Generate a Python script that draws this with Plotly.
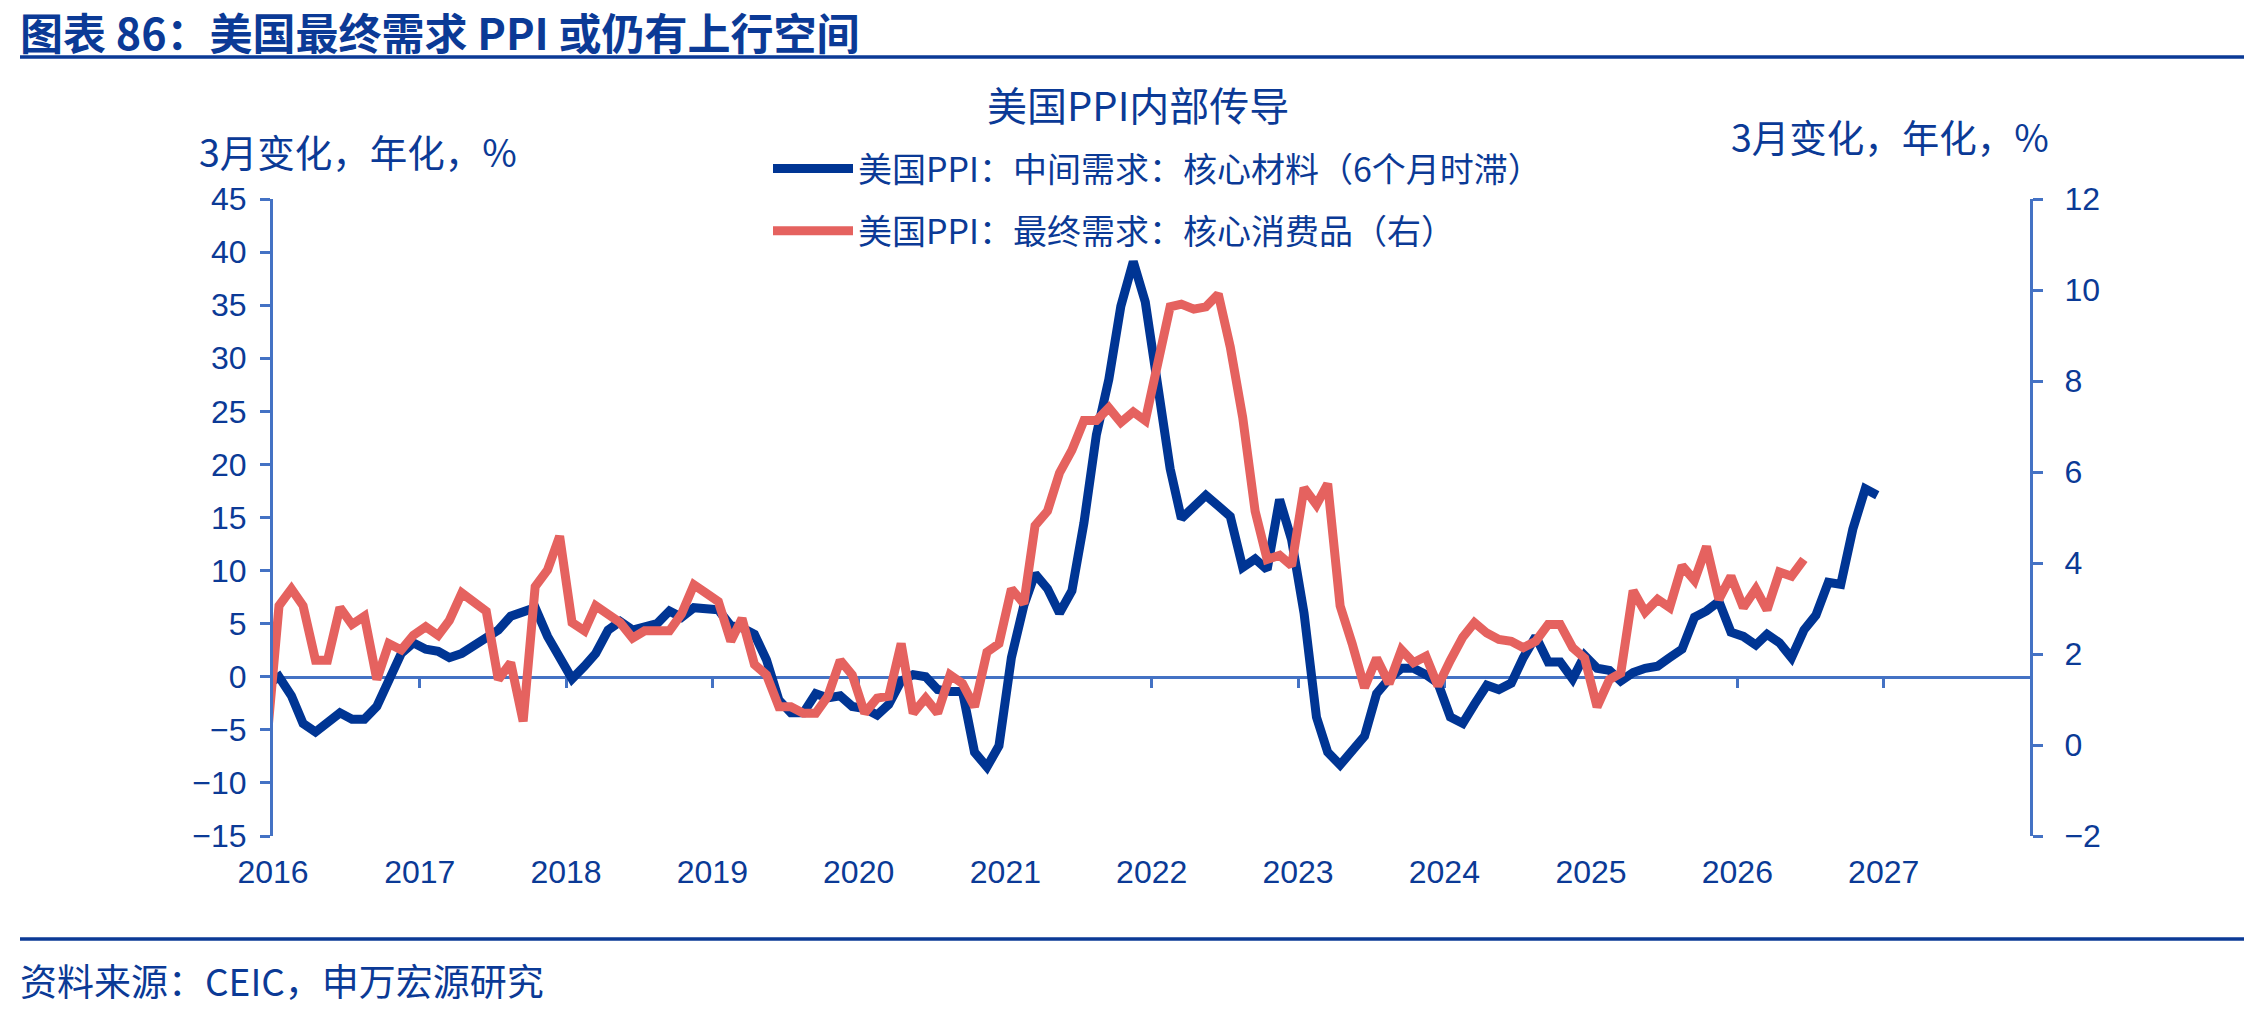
import plotly.graph_objects as go
import pandas as pd

# ---------------- data ----------------
years = ["2016", "2017", "2018", "2019", "2020", "2021", "2022",
         "2023", "2024", "2025", "2026", "2027"]

# 美国PPI：中间需求：核心材料（6个月时滞） – monthly, first value is Dec-2015 (clipped)
blue_vals = [
    -0.8,
    0.0, -1.8, -4.4, -5.2, -4.4, -3.4, -4.0, -4.0, -2.8, -0.2, 2.2, 3.2,
    2.6, 2.4, 1.8, 2.2, 3.0, 3.8, 4.4, 5.7, 6.2, 6.5, 3.8, 2.0,
    -0.2, 1.0, 2.2, 4.4, 5.2, 4.4, 4.8, 5.0, 6.2, 5.6, 6.5, 6.5,
    6.3, 4.8, 4.6, 4.0, 1.6, -2.2, -3.4, -3.4, -1.6, -2.0, -1.8, -2.8,
    -3.0, -3.6, -2.6, -0.4, 0.2, 0.0, -1.2, -1.4, -1.4, -7.1, -8.5, -6.5,
    1.8, 6.7, 9.7, 8.3, 6.0, 8.1, 14.5, 22.8, 28.0, 34.9, 39.1, 35.3,
    27.2, 19.6, 14.9, 16.1, 17.1, 16.1, 15.1, 10.3, 11.1, 10.1, 16.7, 12.9,
    6.0, -3.8, -7.1, -8.3, -6.9, -5.6, -1.6, -0.2, 0.8, 0.8, 0.2, -0.6,
    -3.8, -4.4, -2.6, -0.8, -1.2, -0.6, 1.8, 3.8, 1.4, 1.4, -0.2, 2.0,
    0.8, 0.6, -0.4, 0.4, 0.8, 1.0, 1.8, 2.6, 5.6, 6.2, 7.1, 4.2,
    3.8, 3.0, 4.0, 3.2, 1.8, 4.4, 5.8, 8.9, 8.7, 13.9, 17.7, 17.1,
]

# 美国PPI：最终需求：核心消费品（右） – monthly, first value is Dec-2015 (clipped)
red_vals = [
    0.0,
    3.06, 3.43, 3.06, 1.86, 1.86, 3.02, 2.65, 2.83, 1.44, 2.23, 2.09, 2.41,
    2.60, 2.41, 2.74, 3.34, 3.15, 2.94, 1.44, 1.81, 0.52, 3.48, 3.85, 4.59,
    2.69, 2.51, 3.06, 2.90, 2.69, 2.35, 2.51, 2.51, 2.51, 2.88, 3.52, 3.34,
    3.15, 2.28, 2.78, 1.77, 1.54, 0.84, 0.84, 0.70, 0.70, 1.07, 1.86, 1.54,
    0.70, 1.03, 1.07, 2.23, 0.70, 1.03, 0.70, 1.54, 1.35, 0.84, 2.04, 2.23,
    3.43, 3.11, 4.82, 5.14, 5.98, 6.48, 7.13, 7.13, 7.41, 7.09, 7.32, 7.13,
    8.29, 9.63, 9.69, 9.58, 9.63, 9.91, 8.75, 7.20, 5.14, 4.08, 4.17, 3.94,
    5.65, 5.28, 5.74, 3.06, 2.23, 1.26, 1.91, 1.35, 2.09, 1.81, 1.95, 1.30,
    1.86, 2.37, 2.69, 2.46, 2.32, 2.28, 2.14, 2.28, 2.65, 2.65, 2.14, 1.91,
    0.84, 1.44, 1.58, 3.39, 2.92, 3.20, 3.02, 3.94, 3.62, 4.36, 3.20, 3.71,
    3.02, 3.43, 2.97, 3.80, 3.71, 4.08,
]

blue_name = "美国PPI：中间需求：核心材料（6个月时滞）"
red_name = "美国PPI：最终需求：核心消费品（右）"

blue_dates = pd.date_range("2015-12-01", periods=len(blue_vals), freq="MS") + pd.Timedelta(days=15)
red_dates = pd.date_range("2015-12-01", periods=len(red_vals), freq="MS") + pd.Timedelta(days=15)

# ---------------- layout geometry ----------------
W, H = 2244, 1015
L, R, T, B = 273, 2030, 199, 836


def px(x):
    return (x - L) / (R - L)


def py(y):
    return (B - y) / (B - T)


TXT = "#0b3a96"
AX = "#4472c4"
BLUE = "#003594"
RED = "#e5625f"
FONT = "Liberation Sans, Arial, Noto Sans CJK SC"
CJK = "Noto Sans CJK SC, Liberation Sans"

fig = go.Figure()
fig.add_trace(go.Scatter(x=blue_dates, y=blue_vals, name=blue_name, mode="lines",
                         line=dict(color=BLUE, width=9), legendgroup="a",
                         xaxis="x", yaxis="y"))
fig.add_trace(go.Scatter(x=red_dates, y=red_vals, name=red_name, mode="lines",
                         line=dict(color=RED, width=9), legendgroup="b",
                         xaxis="x", yaxis="y2"))
# carrier for the zero-crossing x axis (line + ticks)
fig.add_trace(go.Scatter(x=[], y=[], xaxis="x2", yaxis="y", showlegend=False,
                         hoverinfo="skip"))

tickvals = [f"{y}-01-01" for y in years]
xr = ["2016-01-01", "2028-01-01"]

fig.update_layout(
    width=W, height=H,
    margin=dict(l=L, r=W - R, t=T, b=H - B),
    paper_bgcolor="white", plot_bgcolor="white",
    showlegend=True,
    legend=dict(x=px(768), y=py(140), xanchor="left", yanchor="top",
                font=dict(family=CJK, size=34, color=TXT),
                itemwidth=80, tracegroupgap=15, bgcolor="rgba(0,0,0,0)"),
    xaxis=dict(type="date", range=xr, tickvals=tickvals, ticktext=years,
               showline=False, showgrid=False, zeroline=False,
               ticks="outside", ticklen=8, tickcolor="rgba(0,0,0,0)",
               tickfont=dict(family=FONT, size=32, color=TXT),
               anchor="y", side="bottom"),
    xaxis2=dict(type="date", range=xr, tickvals=tickvals, overlaying="x",
                matches="x", anchor="free", position=0.25,
                showline=True, linecolor=AX, linewidth=3,
                ticks="outside", ticklen=9, tickwidth=3, tickcolor=AX,
                showticklabels=False, showgrid=False, zeroline=False,
                layer="below traces"),
    yaxis=dict(range=[-15, 45], dtick=5, tick0=0, showgrid=False, zeroline=False,
               showline=True, linecolor=AX, linewidth=3,
               ticks="outside", ticklen=10, tickwidth=3, tickcolor=AX,
               ticklabelstandoff=7,
               tickfont=dict(family=FONT, size=32, color=TXT)),
    yaxis2=dict(range=[-2, 12], dtick=2, tick0=0, overlaying="y", side="right",
                anchor="x", showgrid=False, zeroline=False,
                showline=True, linecolor=AX, linewidth=3,
                ticks="outside", ticklen=10, tickwidth=3, tickcolor=AX,
                ticklabelstandoff=15,
                tickfont=dict(family=FONT, size=32, color=TXT)),
)

ann = []
ann.append(dict(text="<b>图表 86：美国最终需求 PPI 或仍有上行空间</b>",
                x=px(18), y=py(31), xanchor="left", yanchor="middle",
                font=dict(family=CJK, size=43, color=TXT)))
ann.append(dict(text="美国PPI内部传导", x=px(1138), y=py(104),
                xanchor="center", yanchor="middle",
                font=dict(family=CJK, size=40, color=TXT)))
ann.append(dict(text="3月变化，年化，%", x=px(358), y=py(150),
                xanchor="center", yanchor="middle",
                font=dict(family=CJK, size=37.5, color=TXT)))
ann.append(dict(text="3月变化，年化，%", x=px(1890), y=py(136),
                xanchor="center", yanchor="middle",
                font=dict(family=CJK, size=37.5, color=TXT)))
ann.append(dict(text="资料来源：CEIC，申万宏源研究", x=px(18), y=py(980),
                xanchor="left", yanchor="middle",
                font=dict(family=CJK, size=37, color=TXT)))
for a in ann:
    a.update(xref="paper", yref="paper", showarrow=False)
fig.update_layout(annotations=ann)

fig.update_layout(shapes=[
    dict(type="line", xref="paper", yref="paper", x0=px(20), x1=px(W),
         y0=py(57), y1=py(57), line=dict(color=TXT, width=3.5)),
    dict(type="line", xref="paper", yref="paper", x0=px(20), x1=px(W),
         y0=py(939), y1=py(939), line=dict(color=TXT, width=3.5)),
])

fig.write_html("out.html")
